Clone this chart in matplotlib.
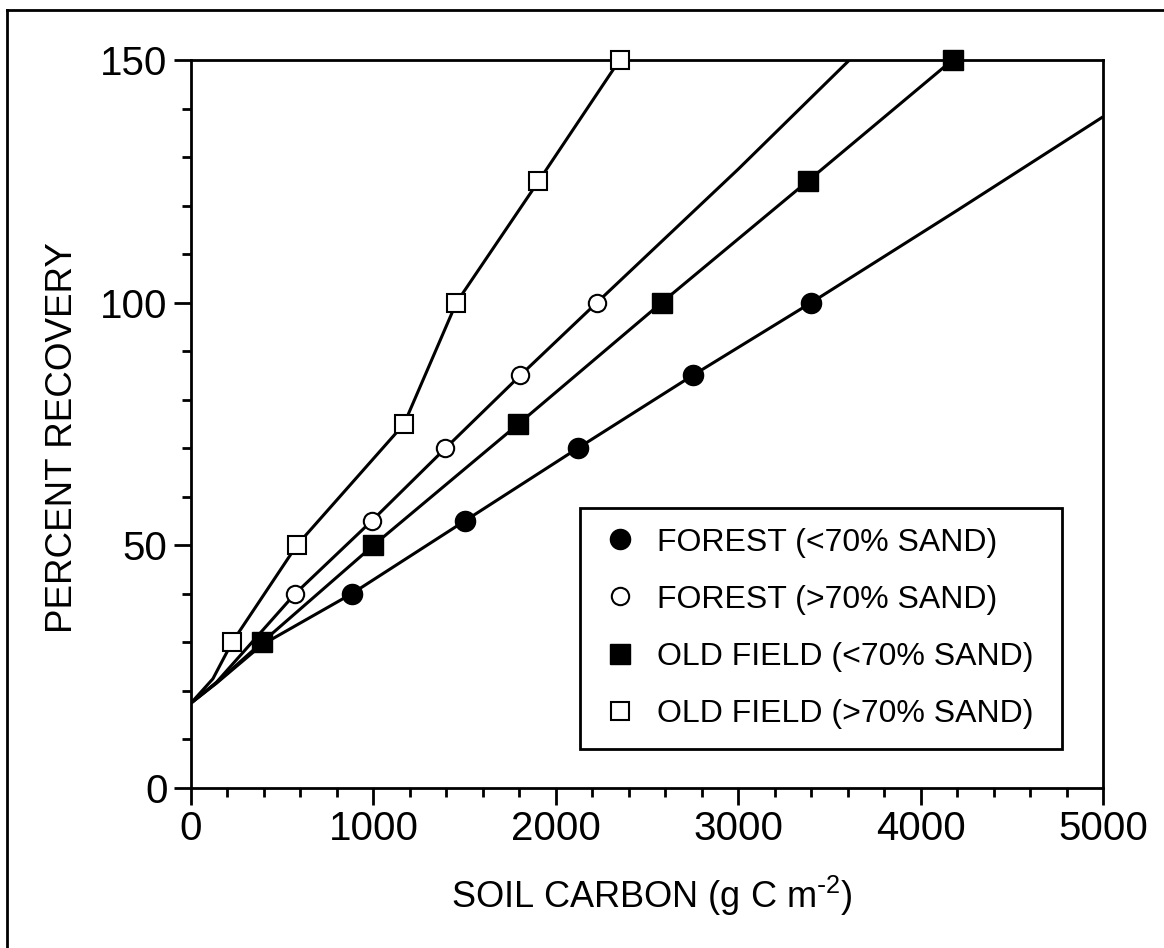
import matplotlib.pyplot as plt
from matplotlib.lines import Line2D

# Data.

forest_lt_x = [880., 1500., 2120., 2750., 3400.]
forest_lt_y = [40., 55., 70., 85., 100.]

forest_gt_x = [570., 990., 1395., 1805., 2225.]
forest_gt_y = [40., 55., 70., 85., 100.]

field_lt_x = [389., 1000., 1795., 2580., 3380., 4175.]
field_lt_y = [30., 50., 75., 100., 125., 150.]

field_gt_x = [225., 580., 1168., 1455., 1905., 2350.]
field_gt_y = [30., 50., 75., 100., 125., 150.]

# Fitted curves.

forest_lt_curve_x = [0., 140., 389., 880., 1500., 2120., 2750., 3400., 4200., 5000.]
forest_lt_curve_y = [17.5, 21.6, 29.5, 40., 55., 70., 85., 100., 119., 138.3]

forest_gt_curve_x = [0., 140., 570., 990., 1395., 1805., 2225., 3000., 3610.]
forest_gt_curve_y = [17.5, 21.8, 40., 55., 70., 85., 100., 127.5, 150.]

field_lt_curve_x = [0., 140., 389., 1000., 1795., 2580., 3380., 4175.]
field_lt_curve_y = [17.5, 21.7, 30., 50., 75., 100., 125., 150.]

field_gt_curve_x = [0., 120., 225., 580., 1168., 1455., 1905., 2350.]
field_gt_curve_y = [17.5, 22.5, 30., 50., 75., 100., 125., 150.]

labels = ["FOREST (<70% SAND)", "FOREST (>70% SAND)",
          "OLD FIELD (<70% SAND)", "OLD FIELD (>70% SAND)"]

# Setup Matplotlib.

plt.rcParams['font.family'] = ['Liberation Sans', 'DejaVu Sans']
plt.rcParams['mathtext.default'] = 'regular'

fig = plt.figure(figsize=(11.64, 9.48), dpi=100)
ax = fig.add_axes([191. / 1164., 160. / 948., 912. / 1164., 728. / 948.])

# Curves.

for cx, cy in [(forest_lt_curve_x, forest_lt_curve_y),
               (forest_gt_curve_x, forest_gt_curve_y),
               (field_lt_curve_x, field_lt_curve_y),
               (field_gt_curve_x, field_gt_curve_y)]:
    ax.plot(cx, cy, color='k', linewidth=2.2, solid_capstyle='butt', zorder=2)

# Markers.

ax.plot(forest_lt_x, forest_lt_y, 'o', ms=14.5, mfc='k', mec='k',
        linestyle='none', label=labels[0], zorder=3, clip_on=False)
ax.plot(forest_gt_x, forest_gt_y, 'o', ms=12.5, mfc='w', mec='k', mew=1.5,
        linestyle='none', label=labels[1], zorder=3, clip_on=False)
ax.plot(field_lt_x, field_lt_y, 's', ms=14.5, mfc='k', mec='k',
        linestyle='none', label=labels[2], zorder=3, clip_on=False)
ax.plot(field_gt_x, field_gt_y, 's', ms=13.5, mfc='w', mec='k', mew=1.5,
        linestyle='none', label=labels[3], zorder=3, clip_on=False)

# Axes.

ax.set_xlim(0., 5000.)
ax.set_ylim(0., 150.)
ax.set_xticks([0, 1000, 2000, 3000, 4000, 5000])
ax.set_xticks(range(0, 5001, 200), minor=True)
ax.set_yticks([0, 50, 100, 150])
ax.set_yticks(range(0, 151, 10), minor=True)

ax.tick_params(which='both', direction='out', width=2., labelsize=29,
               top=False, right=False)
ax.tick_params(which='major', length=12.)
ax.tick_params(which='minor', length=6.5)
ax.tick_params(axis='x', pad=4)
ax.tick_params(axis='y', pad=5)

for s in ax.spines.values():
    s.set_linewidth(2.)

ax.set_xlabel(r"SOIL CARBON (g C m$^{\text{-}2}$)", fontsize=26)
ax.set_ylabel("PERCENT RECOVERY", fontsize=26.5)
ax.xaxis.set_label_coords(0.505, -0.118)
ax.yaxis.set_label_coords(-0.122, 0.482)

# Legend (box spans a fixed width, as in the reference).

legend = ax.legend(loc='upper left',
                   bbox_to_anchor=(0.4265, 0.085, 0.5285, 0.3),
                   mode='expand', borderaxespad=0., fontsize=23, numpoints=1,
                   handlelength=1.25, handletextpad=0.53, borderpad=0.62,
                   labelspacing=0.85, fancybox=False, frameon=True,
                   framealpha=1.)
legend.get_frame().set_edgecolor('k')
legend.get_frame().set_linewidth(2.)

# Outer frame (left and top edges visible in the reference).

fig.add_artist(Line2D([7. / 1164., 7. / 1164.], [0., 1. - 10. / 948.],
                      transform=fig.transFigure, color='k', linewidth=2.))
fig.add_artist(Line2D([7. / 1164., 1.], [1. - 10. / 948., 1. - 10. / 948.],
                      transform=fig.transFigure, color='k', linewidth=2.))

plt.savefig("out.png", dpi=100)
plt.close()
